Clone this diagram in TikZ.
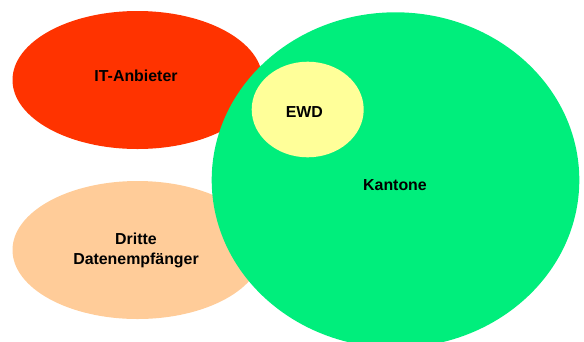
\documentclass[tikz,border=0pt]{standalone}
\usepackage{fontspec}
\setmainfont{Liberation Sans}
\usetikzlibrary{shapes.geometric}
\definecolor{itred}{RGB}{255,51,0}
\definecolor{peach}{RGB}{255,204,153}
\definecolor{kgreen}{RGB}{0,238,124}
\definecolor{ewdyellow}{RGB}{255,255,153}
\tikzset{
  blob/.style={ellipse, draw=none, inner sep=0pt},
  lbl/.style={font=\fontsize{15.9}{20}\selectfont\bfseries, anchor=base, align=center, inner sep=0pt}
}
\begin{document}
\begin{tikzpicture}[x=1pt,y=-1pt]
\useasboundingbox (0,0) rectangle (584,341);
\clip (0,0) rectangle (584,341);
\node[blob, fill=itred, minimum width=250pt, minimum height=138pt] (it) at (137.5,80) {};
\node[blob, fill=peach, minimum width=250pt, minimum height=138pt] (dr) at (137.5,250) {};
\node[blob, fill=kgreen, minimum width=367.6pt, minimum height=335.4pt] (ka) at (395.5,180) {};
\node[blob, fill=ewdyellow, minimum width=112pt, minimum height=95.6pt] (ew) at (307.7,109.5) {};
\node[lbl] (itl) at (136,81.7) {IT-Anbieter};
\node[lbl] (drl) at (136,264.3) {Dritte\\Datenempfänger};
\node[lbl] (kal) at (395,190.7) {Kantone};
\node[lbl] (ewl) at (304.3,117.3) {EWD};
\end{tikzpicture}
\end{document}
